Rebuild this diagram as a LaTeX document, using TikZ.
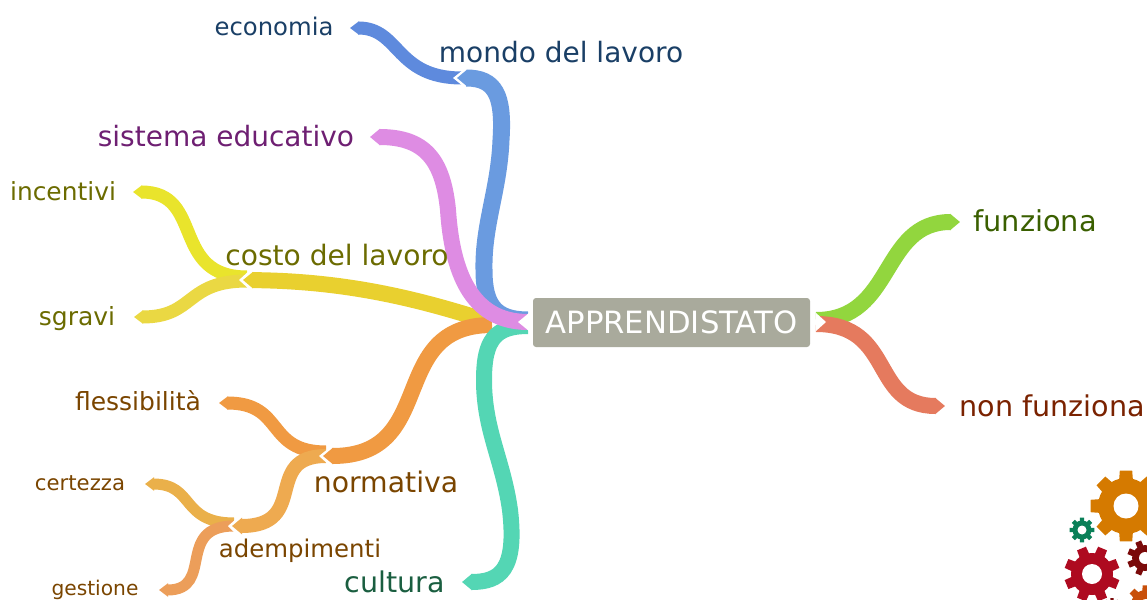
\documentclass[tikz,border=0pt]{standalone}
\usepackage{fontspec}
\setmainfont{DejaVu Sans}
\usetikzlibrary{arrows.meta}
\definecolor{cBox}{HTML}{A9AA9C}
\definecolor{cBlueA}{HTML}{5E8ADD}
\definecolor{cBlueB}{HTML}{6A9BE0}
\definecolor{cPink}{HTML}{DE8CE3}
\definecolor{cYelA}{HTML}{E9E42C}
\definecolor{cYelB}{HTML}{E9D02F}
\definecolor{cYelC}{HTML}{EAD843}
\definecolor{cOrA}{HTML}{F09A42}
\definecolor{cOrB}{HTML}{EEAA50}
\definecolor{cOrC}{HTML}{EAB04A}
\definecolor{cOrD}{HTML}{EC9E5A}
\definecolor{cTeal}{HTML}{54D6B4}
\definecolor{cGreen}{HTML}{92D63E}
\definecolor{cRed}{HTML}{E57A5E}
\definecolor{tBlue}{HTML}{1A3F66}
\definecolor{tPurple}{HTML}{6E1F72}
\definecolor{tOlive}{HTML}{6B6B00}
\definecolor{tBrown}{HTML}{7A4500}
\definecolor{tTeal}{HTML}{1A5E40}
\definecolor{tGreen}{HTML}{3A5F00}
\definecolor{tRed}{HTML}{7A2200}
\definecolor{gOr}{HTML}{D57A00}
\definecolor{gGr}{HTML}{0A8058}
\definecolor{gRe}{HTML}{AE0A20}
\definecolor{gDk}{HTML}{7A0A0A}
\definecolor{gOs}{HTML}{C8500A}
\newcommand{\gearshape}[8]{% x y router rcore rhole teeth colour phase
  \fill[#7] (#1,#2) circle[radius=#4];
  \foreach \gi in {1,...,#6}{
    \pgfmathsetmacro{\ga}{360/#6*\gi+#8}
    \pgfmathsetmacro{\gw}{360/#6*0.22}
    \pgfmathsetmacro{\gb}{360/#6*0.32}
    \fill[#7] ([shift={(\ga-\gb:#4-0.5)}]#1,#2) -- ([shift={(\ga-\gw:#3)}]#1,#2) -- ([shift={(\ga+\gw:#3)}]#1,#2) -- ([shift={(\ga+\gb:#4-0.5)}]#1,#2) -- cycle;
  }
  \fill[white] (#1,#2) circle[radius=#5];
}
\tikzset{
  x=1pt,y=-1pt,
  bA/.style={line width=16pt,line cap=butt,-{Triangle[length=10pt,width=16pt]}},
  bB/.style={line width=13pt,line cap=butt,-{Triangle[length=9pt,width=13pt]}},
  lab/.style={inner sep=0pt,font=\fontsize{#1}{#1}\selectfont},
  notch/.style={fill=white},
}
\begin{document}
\begin{tikzpicture}
\useasboundingbox (0,0) rectangle (1147,599);
% coordinates
\coordinate (rootL) at (528,322);
\coordinate (rootR) at (816,322);
\coordinate (tEco) at (350,28);
\coordinate (tMon) at (457,78);
\coordinate (jMon) at (462,78);
\coordinate (tSis) at (370,137);
\coordinate (tCos) at (243,280);
\coordinate (tInc) at (133,192);
\coordinate (tSgr) at (134,317);
\coordinate (tNor) at (323,456);
\coordinate (tFle) at (219,403);
\coordinate (tAde) at (232,526);
\coordinate (tCer) at (145,484);
\coordinate (tGes) at (159,590);
\coordinate (tCul) at (462,582);
\coordinate (tFun) at (960,222);
\coordinate (tNon) at (945,406);
% level-2 branches first, so that their parent's tip lies over their root
\draw[bB,cYelA] (247,277) .. controls (170,277) and (205,192) .. (tInc);
\draw[bB,cYelC] (247,281) .. controls (185,281) and (195,317) .. (tSgr);
\fill[notch] (250,270) -- (239,280) -- (250,290) -- cycle;
\draw[bB,line width=11pt,cOrC] (234,523) .. controls (180,523) and (195,484) .. (tCer);
\draw[bB,line width=11pt,cOrD] (234,526) .. controls (175,526) and (215,590) .. (tGes);
\fill[notch] (236,519) -- (228,526) -- (236,534) -- cycle;
\draw[bB,cOrA] (326,452) .. controls (265,452) and (285,403) .. (tFle);
\draw[bA,line width=14pt,cOrB] (326,456) .. controls (262,456) and (310,526) .. (tAde);
\fill[notch] (329,448) -- (319,456) -- (329,465) -- cycle;
\draw[bB,cBlueA] (jMon) .. controls (395,78) and (400,28) .. (tEco);
\fill[notch] (463,70) -- (453,78) -- (463,86) -- cycle;
% level-1 branches drawn from the root to their tip
\draw[bA,cYelB] (490,322) .. controls (410,296) and (340,281) .. (tCos);
\draw[bA,cOrA] (492,325) .. controls (385,325) and (440,456) .. (tNor);
\draw[bA,cTeal] (rootL) ++(0,4) .. controls (495,326) and (484,340) .. (484,380) .. controls (484,430) and (503,460) .. (510,510) .. controls (517,570) and (500,582) .. (tCul);
\draw[bA,line width=17pt,cBlueB] (rootL) ++(0,-2) .. controls (495,320) and (484,305) .. (484,270) .. controls (483,225) and (499,190) .. (501,140) .. controls (504,95) and (495,78) .. (tMon);
\draw[bA,cPink] (rootL) .. controls (470,322) and (452,270) .. (448,210) .. controls (443,160) and (425,137) .. (tSis);
\draw[bA,cGreen] (rootR) ++(0,-2) .. controls (895,320) and (880,222) .. (tFun);
\draw[bA,cRed] (rootR) ++(0,2) .. controls (895,324) and (870,406) .. (tNon);
% white notches at the central topic
\fill[notch] (529,313) -- (518,322) -- (529,331) -- cycle;
\fill[notch] (816,313) -- (826,322) -- (816,331) -- cycle;
% box
\node[fill=cBox,rounded corners=3pt,minimum width=277pt,minimum height=49pt,inner sep=0pt,text=white,lab=30.7] (main) at (671.5,322.5) {APPRENDISTATO};
% labels
\node[lab=24.3,text=tBlue] (economia) at (274,26.5) {economia};
\node[lab=28,text=tBlue] (mondo) at (561,52.5) {mondo del lavoro};
\node[lab=28,text=tPurple] (sistema) at (226,136) {sistema educativo};
\node[lab=24.9,text=tOlive] (incentivi) at (63,191) {incentivi};
\node[lab=28.1,text=tOlive] (costo) at (337,255) {costo del lavoro};
\node[lab=25,text=tOlive] (sgravi) at (77,319) {sgravi};
\node[lab=25,text=tBrown] (flessibilita) at (138,401) {flessibilità};
\node[lab=21.2,text=tBrown] (certezza) at (80,483) {certezza};
\node[lab=28.3,text=tBrown] (normativa) at (386,482) {normativa};
\node[lab=24.4,text=tBrown] (adempimenti) at (300,551) {adempimenti};
\node[lab=20.2,text=tBrown] (gestione) at (95,590) {gestione};
\node[lab=28.5,text=tTeal] (cultura) at (395,582) {cultura};
\node[lab=28.8,text=tGreen] (funziona) at (1035,221) {funziona};
\node[lab=28.6,text=tRed] (nonfunziona) at (1052,406) {non funziona};
% gears
\gearshape{1126}{506}{36}{28}{12.5}{8}{gOr}{0}
\gearshape{1082}{530}{12.5}{9.5}{4.5}{8}{gGr}{0}
\gearshape{1092}{574}{28}{21}{10}{8}{gRe}{22.5}
\gearshape{1145}{558}{18}{13}{6}{8}{gDk}{22.5}
\gearshape{1146}{605}{20}{15}{6}{8}{gOs}{0}
\gearshape{1112}{607}{9}{6.5}{2.5}{8}{gDk}{0}
\end{tikzpicture}
\end{document}
